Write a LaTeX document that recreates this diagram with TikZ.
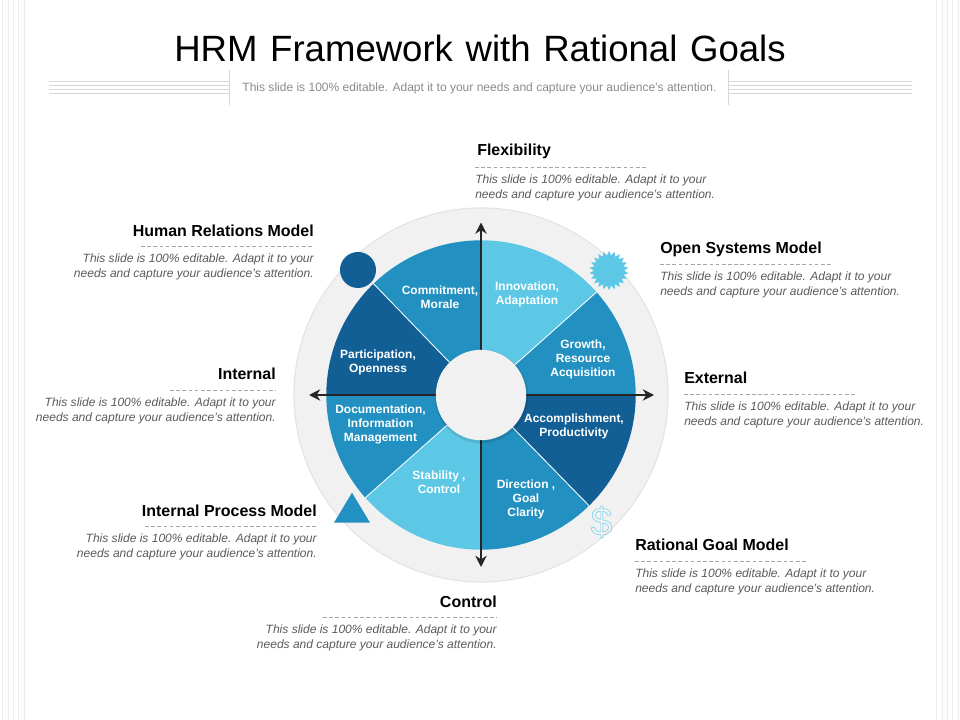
\documentclass[tikz,border=0pt]{standalone}
\usepackage{fontspec}
\setmainfont{Liberation Sans}
\usepackage{tikz}
\usetikzlibrary{shapes, arrows.meta}

\definecolor{darkblue}{HTML}{125F96}
\definecolor{midblue}{HTML}{2291C1}
\definecolor{lightblue}{HTML}{5CC8E6}
\definecolor{ringgray}{HTML}{F1F1F1}
\definecolor{stripegray}{HTML}{EDEDED}
\definecolor{rulegray}{HTML}{D6D6D6}
\definecolor{subgray}{HTML}{8A8A8A}
\definecolor{descgray}{HTML}{5A5A5A}
\definecolor{axisblack}{HTML}{262626}

\tikzset{
    heading/.style={inner sep=0pt, font=\fontsize{11.35}{13}\selectfont\bfseries},
    descleft/.style={inner sep=0pt, align=left, text=descgray, font=\fontsize{8.55}{10}\selectfont\itshape},
    descright/.style={inner sep=0pt, align=right, text=descgray, font=\fontsize{8.55}{10}\selectfont\itshape},
    wedgetext/.style={inner sep=0pt, align=center, text=white, font=\fontsize{8.5}{10}\selectfont\bfseries},
    dashrule/.style={draw=gray!70, line width=0.4pt, dash pattern=on 2.6pt off 1.8pt},
    stripe/.style={draw=stripegray, line width=0.5pt},
    headrule/.style={draw=rulegray, line width=0.7pt},
    axisline/.style={draw=axisblack, line width=1.5pt, {Stealth[length=8pt,width=8pt]}-{Stealth[length=8pt,width=8pt]}},
    divider/.style={draw=white, line width=0.6pt}
}

\begin{document}
\begin{tikzpicture}[x=0.025cm, y=-0.025cm]
                \useasboundingbox (0,0) rectangle (960,720);

                \draw[stripe] (2,0) -- (2,720);
                \draw[stripe] (8,0) -- (8,720);
                \draw[stripe] (13,0) -- (13,720);
                \draw[stripe] (18,0) -- (18,720);
                \draw[stripe] (24,0) -- (24,720);
                \draw[stripe] (936,0) -- (936,720);
                \draw[stripe] (942,0) -- (942,720);
                \draw[stripe] (947,0) -- (947,720);
                \draw[stripe] (952,0) -- (952,720);
                \draw[stripe] (958,0) -- (958,720);

                \draw[headrule] (49,81) -- (229,81);
                \draw[headrule] (49,85.5) -- (229,85.5);
                \draw[headrule] (49,89.5) -- (229,89.5);
                \draw[headrule] (49,93.5) -- (229,93.5);
                \draw[headrule] (229.5,70) -- (229.5,105);
                \draw[headrule] (729,81) -- (912,81);
                \draw[headrule] (729,85.5) -- (912,85.5);
                \draw[headrule] (729,89.5) -- (912,89.5);
                \draw[headrule] (729,93.5) -- (912,93.5);
                \draw[headrule] (728.5,70) -- (728.5,105);

                \node[inner sep=0pt, anchor=base, font=\fontsize{26}{30}\selectfont] (title) at (480,62) {\spaceskip 9pt\relax HRM Framework with Rational Goals};
                \node[inner sep=0pt, anchor=base, text=subgray, font=\fontsize{8.55}{10}\selectfont] (subtitle) at (479.5,92) {This slide is 100\% editable. Adapt it to your needs and capture your audience's attention.};

                \begin{scope}[shift={(481,395)}, x=0.025cm, y=0.025cm]
                    \fill[gray!22] (0,0) circle (187.6);
                    \fill[ringgray] (0,0) circle (186.4);

                    \fill[lightblue] (0,0) -- (90:154.7) arc[start angle=90, end angle=41.7, radius=154.7] -- cycle;
                    \fill[midblue] (0,0) -- (41.7:154.7) arc[start angle=41.7, end angle=0, radius=154.7] -- cycle;
                    \fill[darkblue] (0,0) -- (0:154.7) arc[start angle=0, end angle=-45.7, radius=154.7] -- cycle;
                    \fill[midblue] (0,0) -- (-45.7:154.7) arc[start angle=-45.7, end angle=-90, radius=154.7] -- cycle;
                    \fill[lightblue] (0,0) -- (-90:154.7) arc[start angle=-90, end angle=-138.4, radius=154.7] -- cycle;
                    \fill[midblue] (0,0) -- (221.6:154.7) arc[start angle=221.6, end angle=180, radius=154.7] -- cycle;
                    \fill[darkblue] (0,0) -- (180:154.7) arc[start angle=180, end angle=134, radius=154.7] -- cycle;
                    \fill[midblue] (0,0) -- (134:154.7) arc[start angle=134, end angle=90, radius=154.7] -- cycle;

                    \draw[divider] (0,0) -- (41.7:154.7);
                    \draw[divider] (0,0) -- (-45.7:154.7);
                    \draw[divider] (0,0) -- (221.6:154.7);
                    \draw[divider] (0,0) -- (134:154.7);

                    \coordinate (axisN) at (0,172.5);
                    \coordinate (axisS) at (0,-172);
                    \coordinate (axisW) at (-172,0);
                    \coordinate (axisE) at (173,0);
                    \draw[axisline] (axisN) -- (axisS);
                    \draw[axisline] (axisW) -- (axisE);

                    \fill[black, opacity=0.10] (0.5,-1.5) circle (46.8);
                    \node[circle, fill=ringgray, minimum size=2.26cm, inner sep=0pt] (hub) at (0,0) {};
                \end{scope}

                \node[circle, fill=darkblue, minimum size=0.9cm, inner sep=0pt] (circleicon) at (358,270) {};
                \node[star, star points=22, star point ratio=1.3, fill=lightblue, minimum size=0.98cm, inner sep=0pt] (burst) at (609,270.5) {};
                \node[isosceles triangle, isosceles triangle apex angle=62, shape border rotate=90, fill=midblue, minimum height=0.75cm, inner sep=0pt] (triangleicon) at (352,512.5) {};
                \node[inner sep=0pt, text=lightblue, font=\fontsize{28}{30}\selectfont] (dollar) at (601.5,522) {\special{pdf:code 1 Tr 0.3 w}\$\special{pdf:code 0 Tr}};

                \node[wedgetext] (innovation) at (527,294.2) {Innovation,\\Adaptation};
                \node[wedgetext] (growth) at (583,359.5) {Growth,\\Resource\\Acquisition};
                \node[wedgetext] (accomplishment) at (574,426.8) {Accomplishment,\\Productivity};
                \node[wedgetext] (direction) at (526,499.5) {Direction ,\\Goal\\Clarity};
                \node[wedgetext] (stability) at (439,481.8) {Stability ,\\Control};
                \node[wedgetext] (documentation) at (380.5,424.5) {Documentation,\\Information\\Management};
                \node[wedgetext] (participation) at (378,362.5) {Participation,\\Openness};
                \node[wedgetext] (commitment) at (440,297.2) {Commitment,\\Morale};

                \node[heading, anchor=west] (flexibility) at (477,151) {Flexibility};
                \node[descleft, anchor=north west] (flexdesc) at (475,175) {This slide is 100\% editable. Adapt it to your\\needs and capture your audience's attention.};
                \coordinate (flexA) at (475,167);
                \coordinate (flexB) at (647,167);
                \draw[dashrule] (flexA) -- (flexB);

                \node[heading, anchor=east] (human) at (314,230.5) {Human Relations Model};
                \node[descright, anchor=north east] (humandesc) at (314,254) {This slide is 100\% editable. Adapt it to your\\needs and capture your audience's attention.};
                \coordinate (humanA) at (141,246);
                \coordinate (humanB) at (314,246);
                \draw[dashrule] (humanA) -- (humanB);

                \node[heading, anchor=west] (open) at (660,249.5) {Open Systems Model};
                \node[descleft, anchor=north west] (opendesc) at (660,272) {This slide is 100\% editable. Adapt it to your\\needs and capture your audience's attention.};
                \coordinate (openA) at (660,264);
                \coordinate (openB) at (832,264);
                \draw[dashrule] (openA) -- (openB);

                \node[heading, anchor=east] (internal) at (276,373.5) {Internal};
                \node[descright, anchor=north east] (internaldesc) at (276,398) {This slide is 100\% editable. Adapt it to your\\needs and capture your audience's attention.};
                \coordinate (internalA) at (170,390);
                \coordinate (internalB) at (276,390);
                \draw[dashrule] (internalA) -- (internalB);

                \node[heading, anchor=west] (external) at (684,377.5) {External};
                \node[descleft, anchor=north west] (externaldesc) at (684,402) {This slide is 100\% editable. Adapt it to your\\needs and capture your audience's attention.};
                \coordinate (externalA) at (684,394);
                \coordinate (externalB) at (857,394);
                \draw[dashrule] (externalA) -- (externalB);

                \node[heading, anchor=east] (process) at (317,510.5) {Internal Process Model};
                \node[descright, anchor=north east] (processdesc) at (317,534) {This slide is 100\% editable. Adapt it to your\\needs and capture your audience's attention.};
                \coordinate (processA) at (145,526);
                \coordinate (processB) at (317,526);
                \draw[dashrule] (processA) -- (processB);

                \node[heading, anchor=west] (rational) at (635,544.5) {Rational Goal Model};
                \node[descleft, anchor=north west] (rationaldesc) at (635,569) {This slide is 100\% editable. Adapt it to your\\needs and capture your audience's attention.};
                \coordinate (rationalA) at (635,561);
                \coordinate (rationalB) at (807,561);
                \draw[dashrule] (rationalA) -- (rationalB);

                \node[heading, anchor=east] (control) at (497,601.5) {Control};
                \node[descright, anchor=north east] (controldesc) at (497,625) {This slide is 100\% editable. Adapt it to your\\needs and capture your audience's attention.};
                \coordinate (controlA) at (323,617);
                \coordinate (controlB) at (497,617);
                \draw[dashrule] (controlA) -- (controlB);
            \end{tikzpicture}
\end{document}
